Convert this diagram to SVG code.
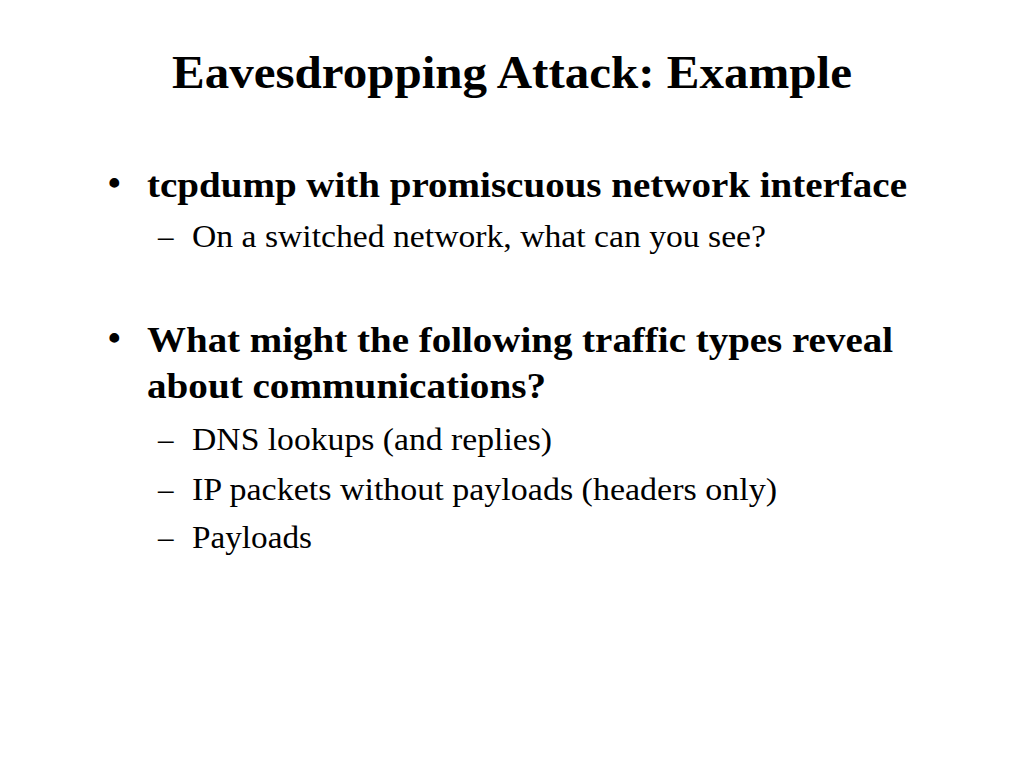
<svg xmlns="http://www.w3.org/2000/svg" width="1024" height="768" viewBox="0 0 1024 768">
<style>
text{font-family:"Liberation Serif","Times New Roman",serif;fill:#000}
.t{font-size:46px;font-weight:bold}
.b{font-size:36px;font-weight:bold}
.s{font-size:31px}
</style>
<rect width="1024" height="768" fill="#fff"/>
<g id="title"><text class="t" x="172" y="88" textLength="680" lengthAdjust="spacingAndGlyphs">Eavesdropping Attack: Example</text></g>
<g id="b1">
<text class="b" x="108" y="195">•</text>
<text class="b" x="147" y="197" textLength="760" lengthAdjust="spacingAndGlyphs">tcpdump with promiscuous network interface</text>
<text class="s" x="158" y="247">–</text>
<text class="s" x="192" y="247" textLength="574" lengthAdjust="spacingAndGlyphs">On a switched network, what can you see?</text>
</g>
<g id="b2">
<text class="b" x="108" y="350">•</text>
<text class="b" x="147" y="352" textLength="746" lengthAdjust="spacingAndGlyphs">What might the following traffic types reveal</text>
<text class="b" x="147" y="398" textLength="399" lengthAdjust="spacingAndGlyphs">about communications?</text>
<text class="s" x="158" y="450">–</text>
<text class="s" x="192" y="450" textLength="360" lengthAdjust="spacingAndGlyphs">DNS lookups (and replies)</text>
<text class="s" x="158" y="500">–</text>
<text class="s" x="192" y="500" textLength="585" lengthAdjust="spacingAndGlyphs">IP packets without payloads (headers only)</text>
<text class="s" x="158" y="548">–</text>
<text class="s" x="192" y="548" textLength="120" lengthAdjust="spacingAndGlyphs">Payloads</text>
</g>
</svg>
